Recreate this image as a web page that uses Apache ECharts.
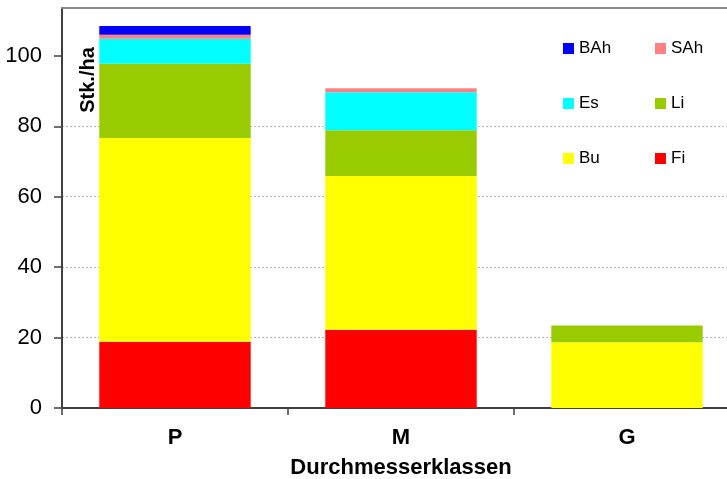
<!DOCTYPE html>
<html>
<head>
<meta charset="utf-8">
<script src="https://cdn.jsdelivr.net/npm/echarts@6/dist/echarts.min.js"></script>
<style>
html,body{margin:0;padding:0;background:#fff;}
#c{width:727px;height:479px;}
</style>
</head>
<body>
<div id="c"></div>
<script>
const categories = ['P', 'M', 'G'];
const Fi  = [18.8, 22.2, 0];
const Bu  = [57.9, 43.7, 18.7];
const Li  = [21.1, 13.0, 4.7];
const Es  = [7.1, 10.8, 0];
const SAh = [1.1, 1.1, 0];
const BAh = [2.5, 0, 0];
const yTicks = [0, 20, 40, 60, 80, 100];

const FONT = '"Liberation Sans", Arial, sans-serif';
const colors = { Fi: '#FF0000', Bu: '#FFFF00', Li: '#99CC00', Es: '#00FFFF', SAh: '#FF8080', BAh: '#0000FF' };
const seriesData = [['Fi', Fi], ['Bu', Bu], ['Li', Li], ['Es', Es], ['SAh', SAh], ['BAh', BAh]];

const chart = echarts.init(document.getElementById('c'));
const legendCommon = {
  orient: 'vertical',
  icon: 'rect',
  padding: 0,
  itemWidth: 11,
  itemHeight: 11,
  itemGap: 38,
  selectedMode: false,
  textStyle: { fontFamily: FONT, fontSize: 17, color: '#000', lineHeight: 17 }
};
chart.setOption({
  animation: false,
  backgroundColor: '#fff',
  grid: { left: 62, top: 8, width: 678, height: 400, containLabel: false, outerBoundsMode: 'none' },
  legend: [
    Object.assign({ left: 563, top: 40, data: ['BAh', 'Es', 'Bu'] }, legendCommon),
    Object.assign({ left: 655, top: 40, data: ['SAh', 'Li', 'Fi'] }, legendCommon)
  ],
  xAxis: [{
    type: 'category',
    data: categories,
    position: 'bottom',
    axisLine: { lineStyle: { color: '#404040', width: 2 } },
    axisTick: { show: true, length: 7, lineStyle: { color: '#404040', width: 1.5 } },
    axisLabel: { fontFamily: FONT, fontSize: 22, fontWeight: 'bold', color: '#000', margin: 19 },
    name: 'Durchmesserklassen',
    nameLocation: 'middle',
    nameGap: 49,
    nameTextStyle: { fontFamily: FONT, fontSize: 22, fontWeight: 'bold', color: '#000' }
  }, {
    type: 'category',
    data: categories,
    position: 'top',
    axisLine: { lineStyle: { color: '#888', width: 2 } },
    axisTick: { show: false },
    axisLabel: { show: false }
  }],
  yAxis: {
    type: 'value',
    min: 0,
    max: 113.6,
    interval: 20,
    axisLine: { show: true, lineStyle: { color: '#404040', width: 2 } },
    axisTick: { show: true, length: 8, customValues: yTicks, lineStyle: { color: '#404040', width: 1.5 } },
    axisLabel: { fontFamily: FONT, fontSize: 22, color: '#000', margin: 20, customValues: yTicks },
    splitLine: { show: true, showMinLine: false, showMaxLine: false, lineStyle: { color: '#b8b8b8', type: [2, 2], width: 1 } }
  },
  series: seriesData.map(([name, arr]) => ({
    name: name,
    type: 'bar',
    stack: 'total',
    xAxisIndex: 0,
    barWidth: '67%',
    itemStyle: { color: colors[name] },
    data: arr
  })),
  graphic: [{
    type: 'text',
    x: 88,
    y: 80,
    rotation: Math.PI / 2,
    style: {
      text: 'Stk./ha',
      fontFamily: FONT,
      fontSize: 20,
      fontWeight: 'bold',
      fill: '#000',
      align: 'center',
      verticalAlign: 'middle'
    }
  }]
});
</script>
</body>
</html>
